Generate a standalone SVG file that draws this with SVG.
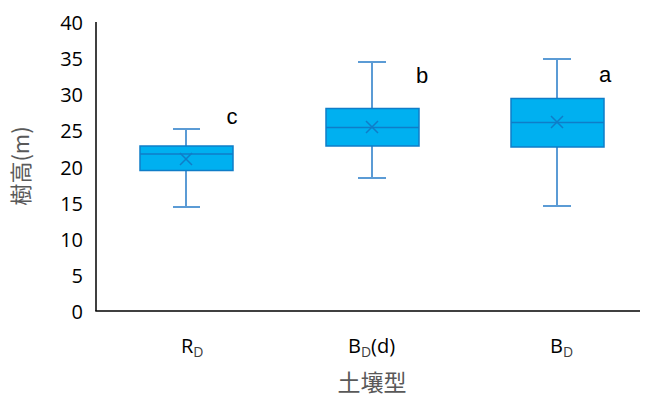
<svg xmlns="http://www.w3.org/2000/svg" width="645" height="401" viewBox="0 0 645 401">
<style>
.tick{font-family:"Open Sans","Liberation Sans",sans-serif;font-size:20px;fill:#000;text-anchor:end}
.cat{font-family:"Open Sans","Liberation Sans",sans-serif;font-size:20px;fill:#000}
.sub{font-size:14px;fill:#404040}
.lett{font-family:"Liberation Sans",sans-serif;font-size:22px;fill:#000;text-anchor:middle}
.title{font-family:"Noto Sans CJK JP","Noto Sans CJK SC",sans-serif;font-size:22px;fill:#595959;text-anchor:middle}
.xt{font-size:23px}
.box{fill:#00B0F0;stroke:#0F7DC8;stroke-width:1.5}
.wh{stroke:#5B9BD5;stroke-width:2;fill:none}
.med{stroke:#0F7DC8;stroke-width:1.5}
.mean{stroke:#0F7DC8;stroke-width:1.5}
.axis{stroke:#000;stroke-width:1.5}
</style>
<g id="axes">
<line class="axis" x1="96" y1="22" x2="96" y2="311"/>
<line class="axis" x1="95.3" y1="311" x2="640" y2="311"/>
</g>
<g id="yticks">
<text class="tick" x="83" y="319">0</text>
<text class="tick" x="83" y="283">5</text>
<text class="tick" x="83" y="247">10</text>
<text class="tick" x="83" y="211">15</text>
<text class="tick" x="83" y="175">20</text>
<text class="tick" x="83" y="138">25</text>
<text class="tick" x="83" y="102">30</text>
<text class="tick" x="83" y="66">35</text>
<text class="tick" x="83" y="30">40</text>
</g>
<g id="box-RD">
<line class="wh" x1="186" y1="129" x2="186" y2="207"/>
<line class="wh" x1="173" y1="129" x2="200" y2="129"/>
<line class="wh" x1="173" y1="207" x2="200" y2="207"/>
<rect class="box" x="140" y="146" width="93" height="24.5"/>
<line class="med" x1="140" y1="154" x2="233" y2="154"/>
<path class="mean" d="M180 153L192 165M192 153L180 165"/>
<text class="lett" x="232" y="124">c</text>
</g>
<g id="box-BDd">
<line class="wh" x1="372" y1="62" x2="372" y2="178"/>
<line class="wh" x1="358" y1="62" x2="386" y2="62"/>
<line class="wh" x1="358" y1="178" x2="386" y2="178"/>
<rect class="box" x="326" y="108.5" width="93" height="37.5"/>
<line class="med" x1="326" y1="127.5" x2="419" y2="127.5"/>
<path class="mean" d="M366 121L378 133M378 121L366 133"/>
<text class="lett" x="422" y="83">b</text>
</g>
<g id="box-BD">
<line class="wh" x1="557" y1="59" x2="557" y2="206"/>
<line class="wh" x1="543" y1="59" x2="571" y2="59"/>
<line class="wh" x1="543" y1="206" x2="571" y2="206"/>
<rect class="box" x="511" y="98.5" width="93" height="48.5"/>
<line class="med" x1="511" y1="122.5" x2="604" y2="122.5"/>
<path class="mean" d="M551 116L563 128M563 116L551 128"/>
<text class="lett" x="605" y="82">a</text>
</g>
<g id="xlabels">
<text class="cat" x="181" y="353">R<tspan class="sub" dy="4">D</tspan></text>
<text class="cat" x="348" y="353">B<tspan class="sub" dy="4">D</tspan><tspan dy="-4">(d)</tspan></text>
<text class="cat" x="550" y="353">B<tspan class="sub" dy="4">D</tspan></text>
</g>
<text id="xtitle" class="title xt" x="372" y="391">土壤型</text>
<text id="ytitle" class="title" transform="translate(29 166) rotate(-90)">樹高(m)</text>
</svg>
